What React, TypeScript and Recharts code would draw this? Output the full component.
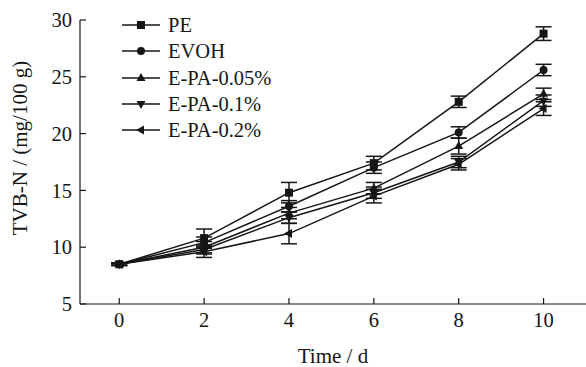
import React from 'react';
import { LineChart, Line, XAxis, YAxis, ErrorBar } from 'recharts';

const days = [0, 2, 4, 6, 8, 10];
const yTicks = [5, 10, 15, 20, 25, 30];

const pe = [8.5, 10.8, 14.8, 17.4, 22.8, 28.8];
const evoh = [8.5, 10.4, 13.6, 17.0, 20.1, 25.6];
const epa005 = [8.5, 10.0, 13.0, 15.2, 18.9, 23.5];
const epa01 = [8.5, 9.8, 12.6, 14.8, 17.5, 22.9];
const epa02 = [8.5, 9.6, 11.2, 14.5, 17.3, 22.2];

const peErr = [0.1, 0.8, 0.9, 0.6, 0.5, 0.6];
const evohErr = [0.1, 0.5, 0.5, 0.5, 0.5, 0.5];
const epa005Err = [0.1, 0.5, 0.5, 0.5, 0.7, 0.5];
const epa01Err = [0.1, 0.4, 0.5, 0.5, 0.5, 0.5];
const epa02Err = [0.1, 0.5, 0.9, 0.6, 0.5, 0.6];

const series = [
    { key: 'pe', name: 'PE', values: pe, err: peErr, shape: 'square' },
    { key: 'evoh', name: 'EVOH', values: evoh, err: evohErr, shape: 'circle' },
    { key: 'epa005', name: 'E-PA-0.05%', values: epa005, err: epa005Err, shape: 'up' },
    { key: 'epa01', name: 'E-PA-0.1%', values: epa01, err: epa01Err, shape: 'down' },
    { key: 'epa02', name: 'E-PA-0.2%', values: epa02, err: epa02Err, shape: 'left' },
];

const data = days.map((d, i) => {
    const row: any = { day: d };
    series.forEach(s => {
        row[s.key] = s.values[i];
        row[s.key + 'Err'] = s.err[i];
    });
    return row;
});

const INK = '#161616';
const FONT = '"Liberation Serif", "DejaVu Serif", serif';

const Marker = ({ cx, cy, shape }: { cx: number; cy: number; shape: string }) => {
    const r = 4;
    if (shape === 'square') return <rect x={cx - r} y={cy - r} width={r * 2} height={r * 2} fill={INK} />;
    if (shape === 'circle') return <circle cx={cx} cy={cy} r={r} fill={INK} />;
    let pts = '';
    if (shape === 'up') pts = `${cx},${cy - r - 1} ${cx - r - 0.5},${cy + r - 1} ${cx + r + 0.5},${cy + r - 1}`;
    if (shape === 'down') pts = `${cx},${cy + r + 1} ${cx - r - 0.5},${cy - r + 1} ${cx + r + 0.5},${cy - r + 1}`;
    if (shape === 'left') pts = `${cx - r - 1},${cy} ${cx + r - 1},${cy - r - 0.5} ${cx + r - 1},${cy + r + 0.5}`;
    return <polygon points={pts} fill={INK} />;
};

const LegendBox = () => (
    <div style={{ position: 'absolute', left: 121, top: 12, fontFamily: FONT, fontSize: 20.5, color: INK, lineHeight: '26.3px' }}>
        {series.map(s => (
            <div key={s.key} style={{ display: 'flex', alignItems: 'center', height: 26.3 }}>
                <svg width={40} height={14}>
                    <line x1={1} y1={7} x2={39} y2={7} stroke={INK} strokeWidth={1.5} />
                    <Marker cx={20} cy={7} shape={s.shape} />
                </svg>
                <span style={{ marginLeft: 7 }}>{s.name}</span>
            </div>
        ))}
    </div>
);

export default function App() {
    const tickStyle = { fontFamily: FONT, fontSize: 20.5, fill: INK };
    const titleStyle = { fontFamily: FONT, fontSize: 21, fill: INK };
    return (
        <div style={{ position: 'absolute', left: 0, top: 0, width: 586, height: 367, background: '#fff' }}>
            <LineChart width={586} height={367} data={data} margin={{ top: 20, right: 0, left: 0, bottom: 0 }}>
                <XAxis
                    dataKey="day"
                    type="number"
                    domain={[-0.925, 11]}
                    ticks={days}
                    allowDataOverflow
                    height={63}
                    stroke={INK}
                    strokeWidth={1.2}
                    tickSize={-6}
                    tickMargin={14}
                    tick={tickStyle}
                    label={{
                        content: () => (
                            <text x={333} y={363} textAnchor="middle" style={titleStyle}>
                                Time / d
                            </text>
                        ),
                    }}
                />
                <YAxis
                    type="number"
                    domain={[5, 30]}
                    ticks={yTicks}
                    width={80}
                    stroke={INK}
                    strokeWidth={1.2}
                    tickSize={-6}
                    tickMargin={14}
                    tick={tickStyle}
                    label={{
                        content: () => (
                            <text
                                x={20}
                                y={148}
                                transform="rotate(-90 20 148)"
                                textAnchor="middle"
                                dominantBaseline="central"
                                style={titleStyle}
                            >
                                TVB-N / (mg/100 g)
                            </text>
                        ),
                    }}
                />
                {series.map(s => (
                    <Line
                        key={s.key}
                        dataKey={s.key}
                        name={s.name}
                        type="linear"
                        stroke={INK}
                        strokeWidth={1.5}
                        isAnimationActive={false}
                        dot={(p: any) => <Marker key={s.key + p.index} cx={p.cx} cy={p.cy} shape={s.shape} />}
                        activeDot={false}
                    >
                        <ErrorBar dataKey={s.key + 'Err'} width={8} stroke={INK} strokeWidth={1.5} direction="y" isAnimationActive={false} />
                    </Line>
                ))}
            </LineChart>
            <LegendBox />
        </div>
    );
}
